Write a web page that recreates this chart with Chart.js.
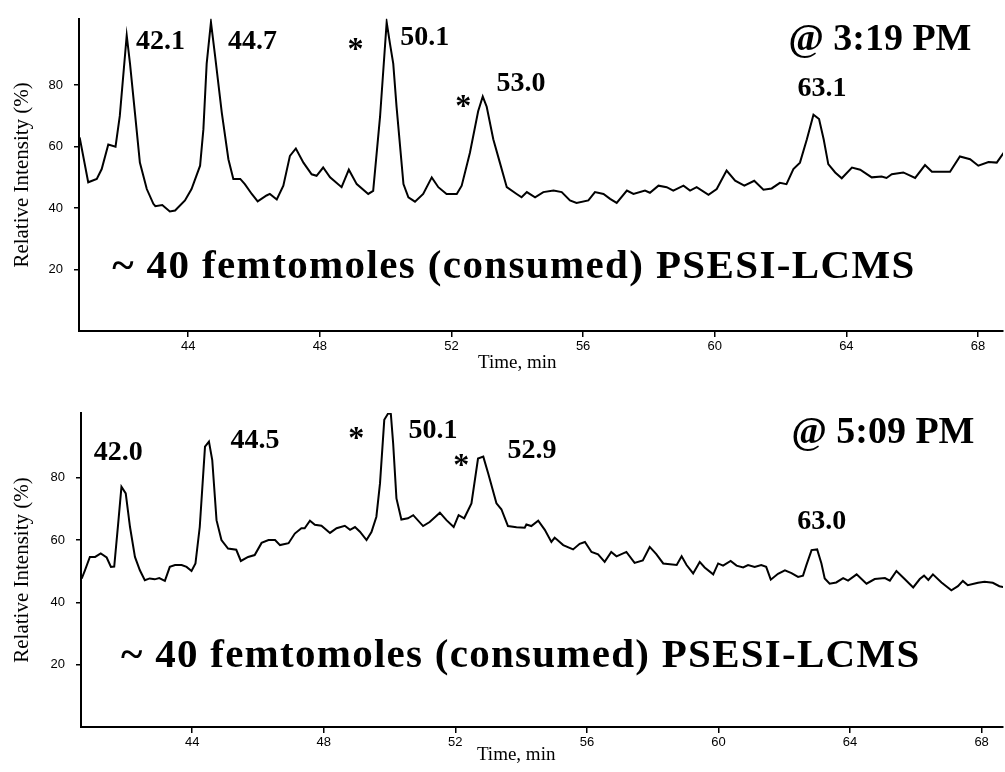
<!DOCTYPE html>
<html><head><meta charset="utf-8">
<script src="https://cdn.jsdelivr.net/npm/chart.js@4.4.1/dist/chart.umd.min.js"></script>
<style>
html,body{margin:0;padding:0;background:#fff;width:1005px;height:772px;overflow:hidden}
.wrap{position:absolute;left:0;width:1005px;height:386px}
</style></head><body>
<div class="wrap" style="top:0"><canvas id="c1" width="1005" height="386"></canvas></div>
<div class="wrap" style="top:386px"><canvas id="c2" width="1005" height="386"></canvas></div>
<script>
// ---- data ----
const xTickValues = [44, 48, 52, 56, 60, 64, 68];
const yTickValues = [20, 40, 60, 80];
const xAxisLabel = 'Time, min';
const yAxisLabel = 'Relative Intensity (%)';
const sampleText = '~ 40 femtomoles (consumed) PSESI-LCMS';
const topTimeLabel = '@ 3:19 PM';
const bottomTimeLabel = '@ 5:09 PM';
const topPeakLabels = ['42.1', '44.7', '50.1', '53.0', '63.1'];
const bottomPeakLabels = ['42.0', '44.5', '50.1', '52.9', '63.0'];

const topTimes = [40.70,40.96,41.22,41.37,41.57,41.79,41.92,42.13,42.23,42.38,42.53,42.74,42.94,43.00,43.21,43.44,43.60,43.90,44.10,44.36,44.46,44.56,44.69,44.81,45.02,45.22,45.37,45.58,45.72,45.93,46.11,46.38,46.48,46.69,46.89,47.09,47.27,47.50,47.75,47.90,48.10,48.31,48.66,48.88,49.12,49.47,49.62,49.83,50.03,50.13,50.23,50.33,50.54,50.69,50.89,51.14,51.40,51.60,51.85,52.16,52.31,52.56,52.81,52.95,53.07,53.27,53.47,53.68,53.98,54.13,54.29,54.54,54.79,55.10,55.35,55.60,55.80,56.16,56.36,56.62,56.82,57.02,57.33,57.53,57.88,58.03,58.29,58.54,58.74,59.05,59.25,59.45,59.81,60.06,60.36,60.62,60.90,61.20,61.48,61.73,61.98,62.18,62.39,62.59,62.80,63.00,63.17,63.31,63.45,63.66,63.86,64.17,64.42,64.77,65.07,65.22,65.38,65.73,66.09,66.39,66.60,66.90,67.15,67.45,67.76,68.01,68.32,68.57,68.82];
const topIntensity = [63,48.4,49.5,52.7,60.7,60,70,96.2,87,71,54.8,46.2,41.4,40.6,41,38.9,39.2,42.5,46.2,53.8,65.6,87,100.5,90,71,55.9,49.5,49.5,47.8,44.6,42.2,44.1,44.6,42.8,47.3,57,59.4,54.8,51,50.5,53.2,50,46.8,52.5,47.8,44.6,45.6,69.9,100.5,93.5,87,73,47.8,43.5,42.1,44.6,50,46.8,44.6,44.6,47.3,58,71.5,76.3,73,62.4,54.8,46.8,44.6,43.5,45.2,43.5,45.2,45.7,45.2,42.5,41.7,42.5,45.2,44.6,43,41.7,45.7,44.6,45.7,45,47.3,46.8,45.7,47.3,45.7,46.8,44.3,46.2,52.2,48.9,47.3,48.9,46,46.4,48.2,47.8,52.7,54.8,62.4,70.4,69,62.4,54.3,51.6,49.7,53.2,52.5,50,50.3,49.8,51,51.6,49.8,54,51.8,51.8,51.8,56.8,55.9,53.8,55,54.8,58.6];

const bottomTimes = [40.64,40.74,40.89,41.05,41.22,41.40,41.53,41.63,41.75,41.85,41.98,42.11,42.26,42.41,42.56,42.71,42.86,43.00,43.17,43.32,43.48,43.68,43.83,43.98,44.10,44.23,44.39,44.51,44.61,44.74,44.89,45.09,45.34,45.48,45.70,45.90,46.11,46.32,46.52,46.67,46.93,47.12,47.32,47.42,47.58,47.73,47.93,48.19,48.39,48.64,48.80,48.95,49.10,49.30,49.45,49.60,49.71,49.84,49.96,50.04,50.11,50.21,50.36,50.56,50.72,51.02,51.22,51.53,51.73,51.95,52.10,52.27,52.49,52.69,52.85,53.00,53.25,53.40,53.60,53.86,54.11,54.16,54.31,54.52,54.72,54.92,55.02,55.28,55.58,55.78,55.94,56.14,56.34,56.54,56.74,56.90,57.20,57.45,57.70,57.91,58.11,58.32,58.73,58.88,59.03,59.23,59.43,59.58,59.84,59.99,60.14,60.37,60.55,60.75,60.90,61.10,61.30,61.45,61.59,61.81,62.02,62.22,62.42,62.57,62.67,62.83,63.00,63.13,63.23,63.38,63.58,63.79,63.94,64.20,64.50,64.75,65.06,65.21,65.41,65.66,65.92,66.12,66.25,66.38,66.52,66.78,67.08,67.28,67.43,67.58,67.89,68.09,68.34,68.54,68.70];
const bottomIntensity = [47.6,50.3,54.6,54.6,55.7,54.4,51.4,51.5,65.3,77.1,75,64.2,54.6,50.3,47.1,47.7,47.4,47.8,46.9,51.4,52,52,51.4,50.1,52.5,64.2,90,91.6,85.7,66.4,60,57.3,56.9,53.3,54.6,55.2,59.1,60,60,58.4,59,62.1,63.8,63.8,66.2,64.9,64.6,62.3,63.8,64.6,63.3,64.2,62.7,60,62.6,67.5,78.2,98.6,100.7,100.5,91,73.4,66.6,67,68,64.5,65.8,68.8,66.4,64.2,68,67,71.8,86.2,86.8,81.4,71.8,69.9,64.5,64.1,64,65,64.5,66.2,63.3,59.4,60.8,58.4,57,58.8,59.4,56.2,55.4,53,56.2,54.8,56.2,52.7,53.5,57.8,55.5,52.5,52,54.8,52,49.3,53,51.2,49,52.5,51.8,53.3,51.8,51.2,52,51.4,52,51.4,47.3,49.2,50.3,49.4,48.2,48.6,51.9,56.8,57,52.5,47.7,46,46.4,47.8,47,49,46,47.5,47.8,47,50.1,47.5,44.8,47.5,48.6,47.2,49,46.4,43.9,45.2,46.9,45.5,46.3,46.6,46.3,45.2,44.8];

// ---- drawing ----
const SERIF = '"Liberation Serif", "Times New Roman", serif';
const SANS = '"Liberation Sans", Arial, sans-serif';
const peakFont = 'bold 28px ' + SERIF;
const starFont = 'bold 32px ' + SERIF;
const bigFont = 'bold 41px ' + SERIF;
const stampFont = 'bold 38px ' + SERIF;
const axisFont = '19px ' + SERIF;

const textPlugin = {
  id: 'texts',
  afterDatasetsDraw(chart, args, opts) {
    const {ctx, chartArea} = chart;
    const xs = chart.scales.x, ys = chart.scales.y;
    ctx.save();
    ctx.fillStyle = '#000';
    ctx.textAlign = 'center';
    ctx.textBaseline = 'alphabetic';
    for (const a of opts.items) {
      ctx.font = a.font;
      if ('letterSpacing' in ctx) ctx.letterSpacing = '0px';
      const px = xs.getPixelForValue(a.t);
      const py = a.v !== undefined ? ys.getPixelForValue(a.v) : chartArea.bottom + a.dy;
      if (a.width && 'letterSpacing' in ctx) {
        const w = ctx.measureText(a.text).width;
        const ls = (a.width - w) / (a.text.length - 1);
        ctx.letterSpacing = ls.toFixed(2) + 'px';
      }
      ctx.fillText(a.text, px, py);
    }
    ctx.restore();
  }
};

function makeChart(id, times, vals, cfg) {
  const pts = times.map((t, i) => ({x: t, y: vals[i]}));
  return new Chart(document.getElementById(id), {
    type: 'line',
    data: {datasets: [{data: pts, borderColor: '#000', borderWidth: 2, pointRadius: 0, tension: 0, fill: false}]},
    plugins: [textPlugin],
    options: {
      responsive: false, animation: false, devicePixelRatio: 1,
      layout: {padding: {top: cfg.padTop, right: 2, left: 0, bottom: 0}},
      plugins: {legend: {display: false}, tooltip: {enabled: false}, texts: {items: cfg.items}},
      scales: {
        x: {
          type: 'linear', min: cfg.xMin, max: cfg.xMax,
          afterBuildTicks: s => { s.ticks = xTickValues.map(v => ({value: v})); },
          afterFit: s => { s.height = cfg.xHeight; },
          ticks: {autoSkip: false, maxRotation: 0, padding: 2, color: '#000', font: {family: SANS, size: 13}, callback: v => String(v)},
          grid: {drawOnChartArea: false, drawTicks: true, tickLength: 6, color: '#000', lineWidth: 1.5},
          border: {display: true, color: '#000', width: 2}
        },
        y: {
          type: 'linear', min: 0, max: cfg.yMax,
          afterBuildTicks: s => { s.ticks = yTickValues.map(v => ({value: v})); },
          afterFit: s => { s.width = cfg.yWidth; },
          ticks: {autoSkip: false, padding: 11, color: '#000', font: {family: SANS, size: 13}, callback: v => String(v)},
          grid: {drawOnChartArea: false, drawTicks: true, tickLength: 5, color: '#000', lineWidth: 1.5},
          border: {display: true, color: '#000', width: 2},
          title: {display: true, text: yAxisLabel, color: '#000', font: {family: SERIF, size: 21, weight: 'normal'}, padding: {top: 10, bottom: 0}}
        }
      }
    }
  });
}

makeChart('c1', topTimes, topIntensity, {
  padTop: 15, xHeight: 55, yWidth: 79, xMin: 40.68, xMax: 68.76, yMax: 101.6,
  items: [
    {text: topPeakLabels[0], t: 43.16, v: 91.9, font: peakFont},
    {text: topPeakLabels[1], t: 45.95, v: 91.9, font: peakFont},
    {text: '*', t: 49.08, v: 88.5, font: starFont},
    {text: topPeakLabels[2], t: 51.19, v: 93.0, font: peakFont},
    {text: '*', t: 52.36, v: 69.9, font: starFont},
    {text: topPeakLabels[3], t: 54.11, v: 78.0, font: peakFont},
    {text: topPeakLabels[4], t: 63.26, v: 76.4, font: peakFont},
    {text: topTimeLabel, t: 65.02, v: 91.4, font: stampFont},
    {text: sampleText, t: 53.9, v: 17.1, font: bigFont, width: 802},
    {text: xAxisLabel, t: 54.0, dy: 37, font: axisFont}
  ]
});

makeChart('c2', bottomTimes, bottomIntensity, {
  padTop: 27, xHeight: 45, yWidth: 81, xMin: 40.62, xMax: 68.65, yMax: 100.8,
  items: [
    {text: bottomPeakLabels[0], t: 41.75, v: 85.7, font: peakFont},
    {text: bottomPeakLabels[1], t: 45.91, v: 89.5, font: peakFont},
    {text: '*', t: 48.99, v: 89.6, font: starFont},
    {text: bottomPeakLabels[2], t: 51.32, v: 92.7, font: peakFont},
    {text: '*', t: 52.18, v: 81.0, font: starFont},
    {text: bottomPeakLabels[3], t: 54.33, v: 86.2, font: peakFont},
    {text: bottomPeakLabels[4], t: 63.14, v: 63.7, font: peakFont},
    {text: bottomTimeLabel, t: 65.0, v: 91.1, font: stampFont},
    {text: sampleText, t: 53.99, v: 19.2, font: bigFont, width: 798},
    {text: xAxisLabel, t: 53.85, dy: 33, font: axisFont}
  ]
});
</script>
</body></html>
